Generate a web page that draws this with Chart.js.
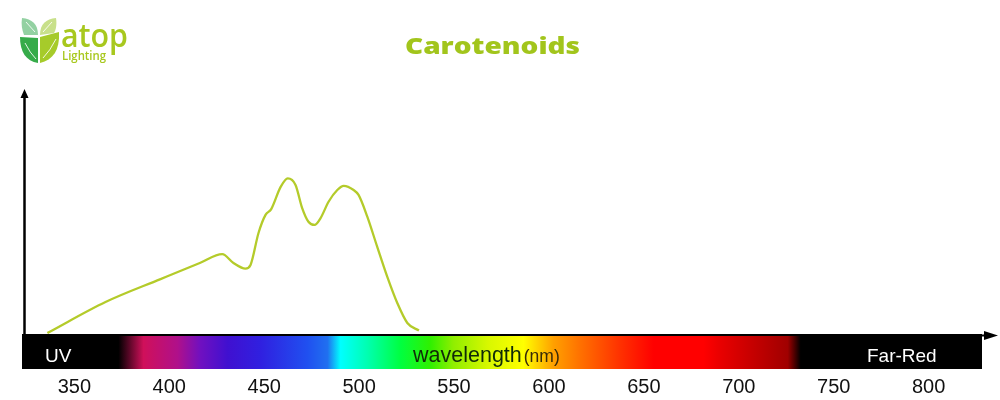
<!DOCTYPE html>
<html><head><meta charset="utf-8">
<script src="https://cdn.jsdelivr.net/npm/chart.js@4.4.1/dist/chart.umd.min.js"></script>
<style>html,body{margin:0;padding:0;background:#fff}#wrap{width:1000px;height:400px;position:relative}</style>
</head><body><div id="wrap"><canvas id="c" width="1000" height="400"></canvas></div>
<script>
// ---- data ----
const wavelengths = [335.8,366.4,395.4,416.4,427.9,433.8,440.1,442.8,447.0,450.7,453.7,458.6,462.4,466.5,470.0,473.3,476.5,479.7,483.9,488.5,491.9,497.1,499.7,504.3,509.5,514.8,520.1,525.4,531.5];
const absorbance  = [0.4,13.1,22.5,29.2,32.7,29.1,26.8,28.3,41.4,48.8,51.2,60.2,63.8,61.1,51.6,46.0,44.7,47.5,54.2,59.0,60.7,59.0,57.0,48.1,35.8,23.5,12.7,4.5,1.4];
const tickValues  = [350,400,450,500,550,600,650,700,750,800];
const tickLabels  = ['350','400','450','500','550','600','650','700','750','800'];
const titleText   = 'Carotenoids';
const bandTexts   = ['UV','wavelength','(nm)','Far-Red'];
const logoTexts   = ['atop','Lighting'];

// ---- styles ----
const spectrumStops = [
  [373.2,'#000000'],[386.4,'#d0105a'],[404.3,'#b0108a'],[416.4,'#7010c0'],[430.7,'#4010d0'],
  [448.1,'#3020e0'],[472.8,'#2050f0'],[483.4,'#2070f0'],[490.2,'#00ffff'],[504.4,'#00ffb0'],
  [521.8,'#00ff40'],[537.6,'#30f000'],[549.7,'#90ee00'],[568,'#d8f800'],[586.6,'#ffff00'],
  [602.4,'#ffa000'],[616.7,'#ff7000'],[637.8,'#ff3000'],[655.2,'#ff0000'],[681.5,'#ff0000'],
  [690.5,'#e80000'],[725.8,'#a00000'],[732.6,'#000000']
];
const GREEN = '#a2c51c';
const SANS = '"Liberation Sans", Arial, sans-serif';

function drawLogo(ctx){
  ctx.save();
  // top-left leaf
  ctx.fillStyle='#93d1a2';
  ctx.beginPath(); ctx.moveTo(22,18); ctx.bezierCurveTo(32,19,38,24,38,35); ctx.lineTo(24,35); ctx.bezierCurveTo(22,30,21,24,22,18); ctx.closePath(); ctx.fill();
  // top-right leaf
  ctx.fillStyle='#c8e08a';
  ctx.beginPath(); ctx.moveTo(56,18); ctx.bezierCurveTo(57,24,56,30,54,33); ctx.lineTo(40,35); ctx.bezierCurveTo(40,24,46,19,56,18); ctx.closePath(); ctx.fill();
  // bottom-left leaf
  ctx.fillStyle='#36ab4a';
  ctx.beginPath(); ctx.moveTo(20,37); ctx.lineTo(38,38); ctx.lineTo(38,63); ctx.bezierCurveTo(26,61,20,52,20,37); ctx.closePath(); ctx.fill();
  // bottom-right leaf
  ctx.fillStyle='#a6cb2a';
  ctx.beginPath(); ctx.moveTo(40,37); ctx.lineTo(59,32); ctx.bezierCurveTo(60,50,53,60,40,63); ctx.closePath(); ctx.fill();
  // veins
  ctx.strokeStyle='rgba(255,255,255,0.85)'; ctx.lineWidth=1;
  ctx.beginPath(); ctx.moveTo(25,43); ctx.quadraticCurveTo(30,53,36,59); ctx.stroke();
  ctx.beginPath(); ctx.moveTo(56,39); ctx.quadraticCurveTo(50,51,43,58); ctx.stroke();
  ctx.beginPath(); ctx.moveTo(26,22); ctx.lineTo(35,32); ctx.stroke();
  ctx.beginPath(); ctx.moveTo(52,22); ctx.lineTo(43,32); ctx.stroke();
  // text
  ctx.fillStyle='#a8c81e';
  ctx.textBaseline='alphabetic'; ctx.textAlign='left';
  ctx.font='600 32px "Open Sans", sans-serif';
  const w = ctx.measureText(logoTexts[0]).width;
  ctx.save(); ctx.translate(61,47); ctx.scale(67/w,1); ctx.fillText(logoTexts[0],0,0); ctx.restore();
  ctx.font='600 12px "Open Sans", sans-serif';
  const w2 = ctx.measureText(logoTexts[1]).width;
  ctx.save(); ctx.translate(62,60); ctx.scale(44/w2,1); ctx.fillText(logoTexts[1],0,0); ctx.restore();
  ctx.restore();
}

const decor = {
  id:'decor',
  beforeDraw(chart){
    const ctx = chart.ctx;
    ctx.save(); ctx.fillStyle='#fff'; ctx.fillRect(0,0,chart.width,chart.height); ctx.restore();
    drawLogo(ctx);
    // title
    ctx.save();
    ctx.fillStyle=GREEN; ctx.textBaseline='alphabetic'; ctx.textAlign='left';
    ctx.font='800 23px "Open Sans", sans-serif';
    const tw = ctx.measureText(titleText).width;
    ctx.translate(405,54); ctx.scale(175/tw,1); ctx.fillText(titleText,0,0);
    ctx.restore();
  },
  afterDraw(chart){
    const {ctx, chartArea:a, scales:{x}} = chart;
    ctx.save();
    const bl=a.left-3, br=a.right-15, bt=a.bottom, bh=35;
    ctx.fillStyle='#000'; ctx.fillRect(bl,bt,br-bl,bh);
    const g = ctx.createLinearGradient(bl,0,br,0);
    spectrumStops.forEach(([nm,c])=>{
      const f=(x.getPixelForValue(nm)-bl)/(br-bl);
      g.addColorStop(Math.min(1,Math.max(0,f)),c);
    });
    ctx.fillStyle=g; ctx.fillRect(bl,bt+2,br-bl,bh-2);
    // x-axis arrow line
    ctx.strokeStyle='#000'; ctx.lineWidth=2;
    ctx.beginPath(); ctx.moveTo(br-1,bt+1.5); ctx.lineTo(a.right-8,bt+1.5); ctx.stroke();
    ctx.fillStyle='#000';
    ctx.beginPath(); ctx.moveTo(a.right+1,bt+1.5); ctx.lineTo(a.right-13,bt-3); ctx.lineTo(a.right-13,bt+6); ctx.closePath(); ctx.fill();
    // y-axis arrow
    ctx.lineWidth=2.5;
    ctx.beginPath(); ctx.moveTo(a.left-0.5,a.bottom); ctx.lineTo(a.left-0.5,a.top+6); ctx.stroke();
    ctx.beginPath(); ctx.moveTo(a.left-0.5,a.top-1); ctx.lineTo(a.left-4.5,a.top+8); ctx.lineTo(a.left+3.5,a.top+8); ctx.closePath(); ctx.fill();
    // band texts
    ctx.textBaseline='alphabetic'; ctx.textAlign='left';
    ctx.fillStyle='#fff'; ctx.font='19px '+SANS;
    ctx.fillText(bandTexts[0],45,362);
    ctx.fillText(bandTexts[3],867,362);
    ctx.fillStyle='#102a08'; ctx.font='21.5px '+SANS;
    ctx.fillText(bandTexts[1],413,362);
    const ww = ctx.measureText(bandTexts[1]).width;
    ctx.fillStyle='#3a2a08'; ctx.font='17.5px '+SANS;
    ctx.fillText(bandTexts[2],413+ww+2,362);
    ctx.restore();
  }
};

new Chart(document.getElementById('c'), {
  type:'line',
  data:{ datasets:[{
    data: wavelengths.map((w,i)=>({x:w,y:absorbance[i]})),
    borderColor:'#b4cb2a', borderWidth:2.3, pointRadius:0, fill:false,
    cubicInterpolationMode:'monotone'
  }]},
  options:{
    responsive:false, animation:false, devicePixelRatio:1,
    layout:{padding:{left:25,right:3,top:90,bottom:0}},
    plugins:{legend:{display:false},title:{display:false},tooltip:{enabled:false}},
    scales:{
      x:{ type:'linear', min:324, max:836,
        grid:{display:false, drawTicks:false}, border:{display:false},
        afterBuildTicks:(s)=>{ s.ticks = tickValues.map(v=>({value:v})); },
        afterFit:(s)=>{ s.height = 66; },
        ticks:{ padding:41, autoSkip:false, maxRotation:0, color:'#111',
          font:{size:20, family:SANS},
          callback:(v,i)=>tickLabels[i] }
      },
      y:{ display:false, min:0, max:100 }
    }
  },
  plugins:[decor]
});
</script></body></html>
